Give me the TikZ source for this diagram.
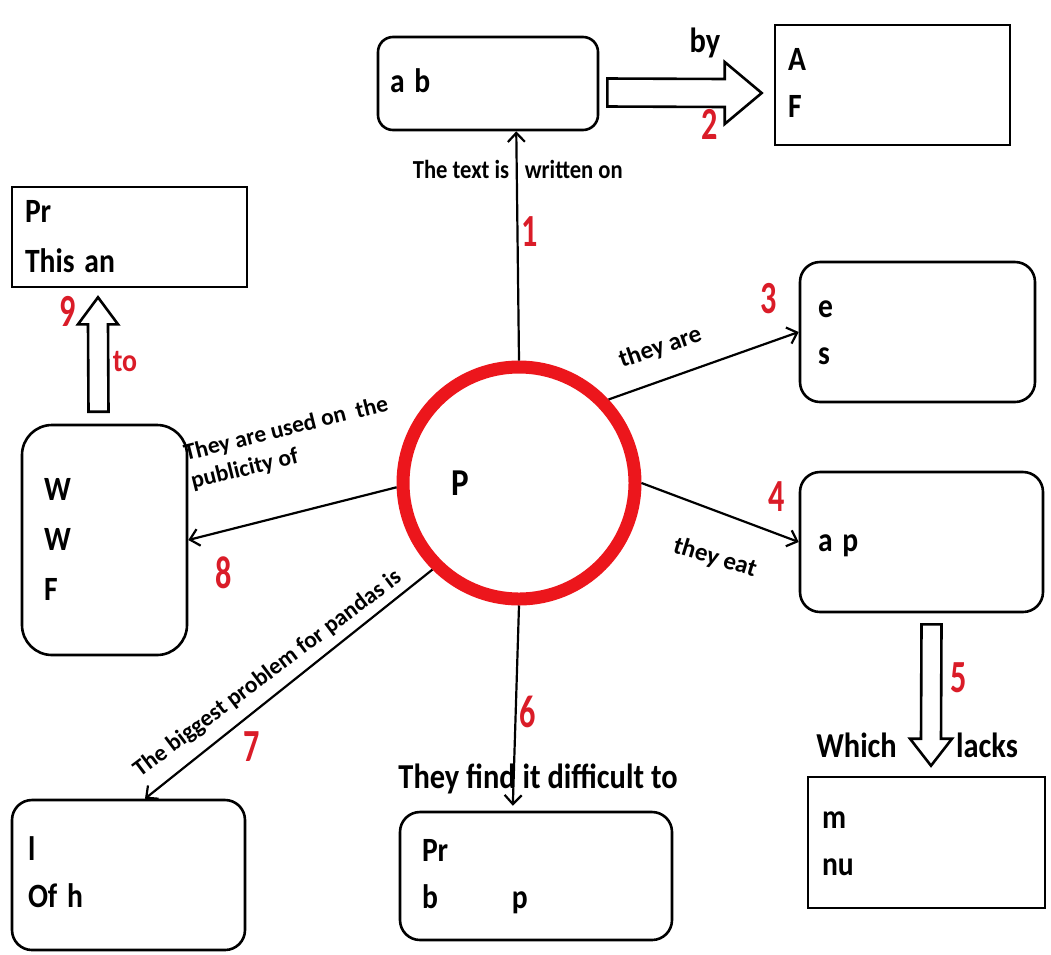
\documentclass[tikz,border=0pt]{standalone}
\usepackage{fontspec}
\setmainfont{Carlito}
\usepackage{graphicx}
\usetikzlibrary{arrows.meta,calc}
\definecolor{ringred}{RGB}{236,22,28}
\definecolor{numred}{RGB}{218,28,40}
\newcommand{\cond}[1]{\scalebox{0.87}[1]{#1}}
\newcommand{\boxtxt}[1]{\cond{\begin{tabular}{@{}l@{}}#1\end{tabular}}}
\newcommand{\numtxt}[1]{\scalebox{0.7}[1]{#1}}
\begin{document}
\begin{tikzpicture}[x=1pt,y=-1pt,
  box/.style={draw, line width=2.6pt, inner xsep=0pt, inner ysep=0pt, align=left, font=\fontsize{34}{47}\selectfont\bfseries},
  rbox/.style={box, rounded corners=#1},
  rbox/.default=20pt,
  conn/.style={line width=2.2pt, -{Straight Barb[length=9pt,width=17pt]}},
  blk/.style={draw, line width=2.6pt, fill=white, line join=miter},
  lab/.style={font=\fontsize{26}{31}\selectfont\bfseries, inner sep=0pt},
  rlab/.style={font=\fontsize{23.5}{29}\selectfont\bfseries, inner sep=0pt},
  big/.style={font=\fontsize{35}{40}\selectfont\bfseries, inner sep=0pt},
  num/.style={font=\fontsize{46}{46}\selectfont\bfseries, text=numred, inner sep=0pt},
]
\useasboundingbox (0,0) rectangle (1051,954);

% boxes
\node[rbox=15pt, minimum width=220pt, minimum height=93pt, text width=196pt] (ab) at (488,83.5) {\boxtxt{a b}};
\node[box, minimum width=235pt, minimum height=120pt, text width=209pt] (AF) at (892.5,85) {\boxtxt{A\\F}};
\node[box, minimum width=235pt, minimum height=98pt, text width=209pt, font=\fontsize{34}{50}\selectfont\bfseries] (prthis) at (129.5,237) {\boxtxt{Pr\\This an}};
\node[rbox=30pt, minimum width=165pt, minimum height=230pt, text width=121pt, font=\fontsize{34}{50}\selectfont\bfseries] (wwf) at (104.5,540) {\boxtxt{W\\W\\F}};
\node[rbox, minimum width=235pt, minimum height=140pt, text width=199pt] (es) at (917.5,332) {\boxtxt{e\\s}};
\node[rbox, minimum width=243pt, minimum height=140pt, text width=207pt] (ap) at (921.5,542) {\boxtxt{a p}};
\node[box, minimum width=237pt, minimum height=131pt, text width=209pt] (mnu) at (926.5,842.5) {\boxtxt{m\\nu}};
\node[rbox, minimum width=272pt, minimum height=128pt, text width=228pt] (pb) at (536,876) {\boxtxt{Pr\\b\hspace{85pt}p}};
\node[rbox, minimum width=233pt, minimum height=150pt, text width=201pt] (lo) at (128.5,875) {\boxtxt{l\\Of h}};

% central ring
\node[circle, draw=ringred, line width=13pt, minimum size=232pt, inner sep=0pt, fill=white] (ring) at (519,483) {};
\node[font=\fontsize{38}{40}\selectfont\bfseries, inner sep=0pt] (ptxt) at (460,483) {\cond{P}};

% connectors
\draw[conn] (ring.north) -- ($(ab.south west)!0.627!(ab.south east)$);
\draw[conn] (ring.43) -- (es.west);
\draw[conn] (ring.east) -- (ap.west);
\draw[conn, shorten >=5pt] (ring.south) -- ($(pb.north west)!0.415!(pb.north east)$);
\draw[conn] (ring.225) -- ($(lo.north west)!0.57!(lo.north east)$);
\draw[conn] (ring.182) -- (wwf.east);

% block arrow 2 (right)
\coordinate (a2s) at ($(ab.east)+(8,9)$);
\coordinate (a2e) at ($(AF.west)+(-12,8)$);
\draw[blk] ($(a2s)+(0,-14)$) -- ($(a2e)+(-37,-14)$) -- ($(a2e)+(-37,-31)$) -- (a2e)
  -- ($(a2e)+(-37,31)$) -- ($(a2e)+(-37,14)$) -- ($(a2s)+(0,14)$) -- cycle;
% block arrow 9 (up)
\coordinate (a9s) at ($(wwf.north)+(-6,-12)$);
\coordinate (a9e) at ($(prthis.south)+(-31.5,9)$);
\draw[blk] ($(a9s)+(-10,0)$) -- ($(a9e)+(-10,27)$) -- ($(a9e)+(-20,27)$) -- (a9e)
  -- ($(a9e)+(20,27)$) -- ($(a9e)+(10,27)$) -- ($(a9s)+(10,0)$) -- cycle;
% block arrow 5 (down)
\coordinate (a5s) at ($(ap.south)+(10,11)$);
\coordinate (a5e) at ($(mnu.north)+(4.5,-10)$);
\draw[blk] ($(a5s)+(-10,0)$) -- ($(a5e)+(-10,-27)$) -- ($(a5e)+(-21,-27)$) -- (a5e)
  -- ($(a5e)+(21,-27)$) -- ($(a5e)+(10,-27)$) -- ($(a5s)+(10,0)$) -- cycle;

% connector labels
\node[lab, anchor=base] (l1) at (517,178) {\cond{\llap{The text is\hspace{9pt}}\rlap{\hspace{9pt}written on}}};
\node[rlab, anchor=base west, rotate=19, font=\fontsize{25}{29}\selectfont\bfseries] (l3) at (622,368) {they are};
\node[rlab, anchor=base west, rotate=-17, font=\fontsize{25}{29}\selectfont\bfseries] (l4) at (672,552) {they eat};
\node[rlab, anchor=base west, rotate=14, align=left] (l8) at (193,489) {They are used on\ \ the\\publicity of};
\node[rlab, anchor=base west, rotate=37] (l7) at (140,778) {The biggest problem for pandas is};
\node[big, anchor=base] (lby) at (705,52) {\cond{by}};
\node[big, anchor=base east] (lwhich) at (897,757) {\cond{Which}};
\node[big, anchor=base west] (llacks) at (956,757) {\cond{lacks}};
\node[big, anchor=base] (l6) at (538,788) {\cond{They find it difficult to}};
\node[font=\fontsize{32}{34}\selectfont\bfseries, text=numred, inner sep=0pt] (lto) at (125,362) {\cond{to}};

% numbers
\node[num] (n1) at (530,232) {\numtxt{1}};
\node[num] (n2) at (710,124) {\numtxt{2}};
\node[num] (n3) at (769,299) {\numtxt{3}};
\node[num] (n4) at (777,497) {\numtxt{4}};
\node[num] (n5) at (959,678) {\numtxt{5}};
\node[num] (n6) at (528,712) {\numtxt{6}};
\node[num] (n7) at (252,747) {\numtxt{7}};
\node[num] (n8) at (224,573) {\numtxt{8}};
\node[num] (n9) at (68,311) {\numtxt{9}};
\end{tikzpicture}
\end{document}
